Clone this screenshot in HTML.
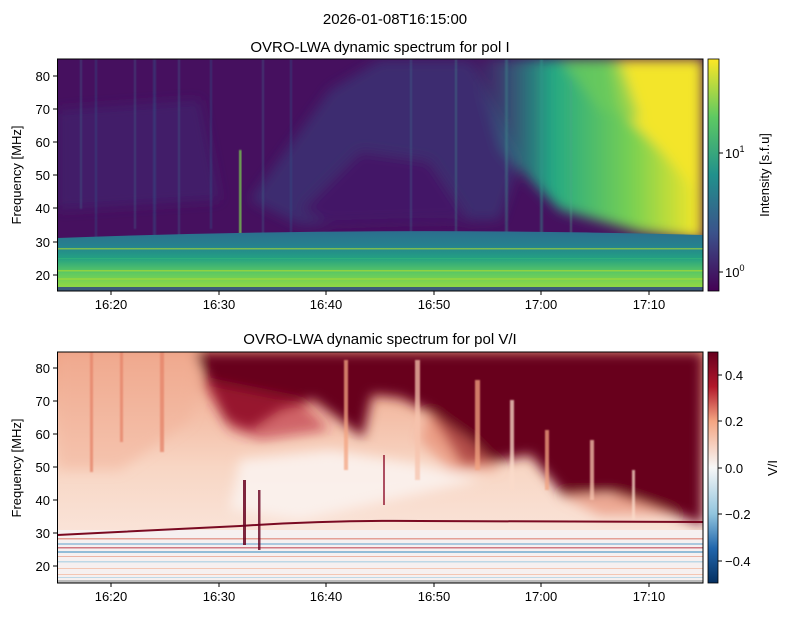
<!DOCTYPE html>
<html><head><meta charset="utf-8"><style>
body{margin:0;background:#fff;}
svg text{font-family:"Liberation Sans",sans-serif;fill:#000;}
</style></head><body>
<svg width="790" height="617" viewBox="0 0 790 617" xmlns="http://www.w3.org/2000/svg">
<defs>
<filter id="b6" x="-20%" y="-20%" width="140%" height="140%"><feGaussianBlur stdDeviation="6"/></filter>
<filter id="b3" x="-20%" y="-20%" width="140%" height="140%"><feGaussianBlur stdDeviation="3"/></filter>
<filter id="b1"><feGaussianBlur stdDeviation="0.8"/></filter>
<clipPath id="c1"><rect x="57.5" y="59" width="645.5" height="232"/></clipPath>
<clipPath id="c2"><rect x="57.5" y="352" width="645.5" height="231"/></clipPath>
<linearGradient id="vir" x1="0" y1="1" x2="0" y2="0">
<stop offset="0" stop-color="#440154"/><stop offset="0.25" stop-color="#3b528b"/><stop offset="0.5" stop-color="#21918c"/><stop offset="0.75" stop-color="#5ec962"/><stop offset="1" stop-color="#fde725"/></linearGradient>
<linearGradient id="rdbu" x1="0" y1="1" x2="0" y2="0">
<stop offset="0" stop-color="#053061"/><stop offset="0.15" stop-color="#2166ac"/><stop offset="0.3" stop-color="#92c5de"/><stop offset="0.5" stop-color="#f7f7f7"/><stop offset="0.7" stop-color="#f4a582"/><stop offset="0.85" stop-color="#b2182b"/><stop offset="1" stop-color="#67001f"/></linearGradient>
<linearGradient id="band" x1="0" y1="0" x2="0" y2="1">
<stop offset="0" stop-color="#2c6e8e"/><stop offset="0.25" stop-color="#26828e"/><stop offset="0.45" stop-color="#23a083"/><stop offset="0.7" stop-color="#5ec962"/><stop offset="0.92" stop-color="#8fd744"/><stop offset="1" stop-color="#5ec962"/></linearGradient>
<linearGradient id="right" x1="0" y1="0" x2="1" y2="0">
<stop offset="0" stop-color="#2a788e" stop-opacity="0"/><stop offset="0.35" stop-color="#22a884"/><stop offset="0.7" stop-color="#7ad151"/><stop offset="1" stop-color="#fde725"/></linearGradient>
<linearGradient id="pinkv" x1="0" y1="0" x2="0" y2="1">
<stop offset="0" stop-color="#eea184"/><stop offset="0.5" stop-color="#f8d6c4"/><stop offset="1" stop-color="#fbeee8"/></linearGradient>
</defs>

<text x="395" y="24" font-size="15" text-anchor="middle">2026-01-08T16:15:00</text>
<text x="380" y="52" font-size="15" text-anchor="middle">OVRO-LWA dynamic spectrum for pol I</text>
<text x="380" y="344" font-size="15" text-anchor="middle">OVRO-LWA dynamic spectrum for pol V/I</text>

<!-- TOP PANEL -->
<g clip-path="url(#c1)">
<rect x="57" y="59" width="646" height="232" fill="#46105f"/>
<g filter="url(#b6)">
<path d="M250 200 L330 90 L380 60 L470 60 L520 160 L500 220 L300 225Z" fill="#35427e" opacity="0.55"/>
<path d="M300 210 L360 150 L430 160 L470 220 L330 225Z" fill="#471265" opacity="0.8"/>
<path d="M470 59 L703 59 L703 240 L640 232 L560 210 L500 150Z" fill="url(#right)"/>
<path d="M610 59 L703 59 L703 200 L660 150 L620 110Z" fill="#f3e52a"/>
<path d="M560 59 L620 59 L640 120 L600 110Z" fill="#6ecc5a" opacity="0.7"/>
<path d="M57 110 L200 100 L220 200 L57 210Z" fill="#3e2a74" opacity="0.5"/>
</g>
<g filter="url(#b1)" opacity="0.4">
<rect x="80" y="59" width="2" height="150" fill="#3d6c8c"/>
<rect x="95" y="59" width="2" height="180" fill="#2f5a8a"/>
<rect x="134" y="59" width="2" height="170" fill="#3d6c8c"/>
<rect x="153" y="59" width="3" height="180" fill="#2f5a8a"/>
<rect x="178" y="59" width="2" height="180" fill="#3d6c8c"/>
<rect x="210" y="59" width="2" height="170" fill="#2f5a8a"/>
<rect x="262" y="59" width="2" height="180" fill="#3d6c8c"/>
<rect x="290" y="59" width="2" height="180" fill="#2f5a8a"/>
<rect x="410" y="59" width="2" height="180" fill="#3d6c8c"/>
<rect x="455" y="59" width="2" height="180" fill="#3d8c8c"/>
<rect x="505" y="59" width="3" height="180" fill="#3d8c8c"/>
<rect x="540" y="59" width="3" height="180" fill="#2f9a8a"/>
<rect x="570" y="80" width="2" height="160" fill="#4fa88a"/>
</g>
<rect x="239" y="150" width="2.5" height="100" fill="#7ad151" opacity="0.8" filter="url(#b1)"/>
<path d="M57 238 Q380 226 703 235 L703 291 L57 291Z" fill="url(#band)"/>
<g opacity="0.6">
<rect x="57" y="248" width="646" height="1.5" fill="#b5de2b"/>
<rect x="57" y="258" width="646" height="1" fill="#35b779"/>
<rect x="57" y="270" width="646" height="1.5" fill="#b5de2b"/>
<rect x="57" y="278" width="646" height="2" fill="#a0da39"/>
</g>
<rect x="57" y="287" width="646" height="4" fill="#3b5a7a"/>
</g>
<rect x="57.5" y="59" width="645.5" height="232" fill="none" stroke="#000" stroke-width="1"/>
<!-- top colorbar -->
<rect x="708" y="59" width="11" height="232" fill="url(#vir)" stroke="#000" stroke-width="0.8"/>
<g font-size="13">
<line x1="719" y1="153" x2="723" y2="153" stroke="#000"/><text x="725" y="158">10<tspan font-size="9" dy="-6">1</tspan></text>
<line x1="719" y1="272" x2="723" y2="272" stroke="#000"/><text x="725" y="277">10<tspan font-size="9" dy="-6">0</tspan></text>
</g>
<text transform="translate(769,175) rotate(-90)" font-size="13" text-anchor="middle">Intensity [s.f.u]</text>

<!-- BOTTOM PANEL -->
<g clip-path="url(#c2)">
<rect x="57" y="352" width="646" height="231" fill="url(#pinkv)"/>
<g filter="url(#b6)">
<path d="M57 352 L200 352 L190 420 L120 470 L57 470Z" fill="#f1b197" opacity="0.5"/>
<path d="M195 352 L703 352 L703 525 L650 505 L610 492 L563 495 L530 455 L495 462 L463 465 L430 412 L400 398 L372 395 L363 438 L340 420 L313 400 L280 410 L250 430 L225 420Z" fill="#67001f"/>
<path d="M200 380 L300 400 L330 430 L260 440 L230 430Z" fill="#b8283a" opacity="0.6"/>
<path d="M430 412 L470 440 L500 470 L450 470 L420 440Z" fill="#e58267" opacity="0.6"/>
<path d="M560 495 L620 495 L680 515 L600 515Z" fill="#e58267" opacity="0.6"/>
<path d="M240 460 L330 450 L420 465 L480 480 L300 520 L230 510Z" fill="#fbf2ee" opacity="0.9"/>
</g>
<g filter="url(#b1)" opacity="0.75">
<rect x="90" y="352" width="3" height="120" fill="#e58267"/>
<rect x="120" y="352" width="3" height="90" fill="#e58267"/>
<rect x="160" y="352" width="4" height="100" fill="#e58267"/>
<rect x="344" y="360" width="4" height="110" fill="#f4a582"/>
<rect x="415" y="360" width="5" height="120" fill="#f7c4ae"/>
<rect x="475" y="380" width="5" height="90" fill="#f4a582"/>
<rect x="510" y="400" width="4" height="90" fill="#fbdccb"/>
<rect x="545" y="430" width="4" height="60" fill="#f4a582"/>
<rect x="590" y="440" width="4" height="60" fill="#f7c4ae"/>
<rect x="632" y="470" width="3" height="50" fill="#fbdccb"/>
</g>
<rect x="57" y="530" width="646" height="53" fill="#f6f0f0"/>
<g opacity="0.55">
<rect x="57" y="538" width="646" height="1.5" fill="#d6604d"/>
<rect x="57" y="543" width="646" height="2" fill="#6fa9d1"/>
<rect x="57" y="547" width="646" height="1.5" fill="#b2182b"/>
<rect x="57" y="551" width="646" height="2" fill="#4393c3"/>
<rect x="57" y="556" width="646" height="1" fill="#e58267"/>
<rect x="57" y="561" width="646" height="1.5" fill="#92c5de"/>
<rect x="57" y="568" width="646" height="1" fill="#f4a582"/>
<rect x="57" y="574" width="646" height="1" fill="#f4a582"/>
<rect x="57" y="577" width="646" height="1" fill="#92c5de"/>
</g>
<path d="M57 535 L240 526 Q330 520 420 521 L703 522" stroke="#7a0a22" stroke-width="2" fill="none"/>
<rect x="243" y="480" width="3" height="65" fill="#67001f" opacity="0.85"/>
<rect x="258" y="490" width="2.5" height="60" fill="#67001f" opacity="0.8"/>
<rect x="383" y="455" width="2" height="50" fill="#8b0a26" opacity="0.7"/>
<rect x="57" y="580" width="646" height="3" fill="#bbbbbb"/>
</g>
<rect x="57.5" y="352" width="645.5" height="231" fill="none" stroke="#000" stroke-width="1"/>
<!-- bottom colorbar -->
<rect x="708" y="352" width="10" height="231" fill="url(#rdbu)" stroke="#000" stroke-width="0.8"/>
<g font-size="13">
<line x1="718" y1="375" x2="722" y2="375" stroke="#000"/><text x="725" y="380">0.4</text>
<line x1="718" y1="421" x2="722" y2="421" stroke="#000"/><text x="725" y="426">0.2</text>
<line x1="718" y1="468" x2="722" y2="468" stroke="#000"/><text x="725" y="473">0.0</text>
<line x1="718" y1="514" x2="722" y2="514" stroke="#000"/><text x="725" y="519">−0.2</text>
<line x1="718" y1="561" x2="722" y2="561" stroke="#000"/><text x="725" y="566">−0.4</text>
</g>
<text transform="translate(777,468) rotate(-90)" font-size="13" text-anchor="middle">V/I</text>

<!-- axes ticks -->
<g font-size="13" stroke-width="1">
<g text-anchor="end">
<line x1="53" y1="76" x2="57" y2="76" stroke="#000"/><text x="50" y="81">80</text>
<line x1="53" y1="109" x2="57" y2="109" stroke="#000"/><text x="50" y="114">70</text>
<line x1="53" y1="142" x2="57" y2="142" stroke="#000"/><text x="50" y="147">60</text>
<line x1="53" y1="175" x2="57" y2="175" stroke="#000"/><text x="50" y="180">50</text>
<line x1="53" y1="208" x2="57" y2="208" stroke="#000"/><text x="50" y="213">40</text>
<line x1="53" y1="242" x2="57" y2="242" stroke="#000"/><text x="50" y="247">30</text>
<line x1="53" y1="275" x2="57" y2="275" stroke="#000"/><text x="50" y="280">20</text>
<line x1="53" y1="368" x2="57" y2="368" stroke="#000"/><text x="50" y="373">80</text>
<line x1="53" y1="401" x2="57" y2="401" stroke="#000"/><text x="50" y="406">70</text>
<line x1="53" y1="434" x2="57" y2="434" stroke="#000"/><text x="50" y="439">60</text>
<line x1="53" y1="467" x2="57" y2="467" stroke="#000"/><text x="50" y="472">50</text>
<line x1="53" y1="500" x2="57" y2="500" stroke="#000"/><text x="50" y="505">40</text>
<line x1="53" y1="533" x2="57" y2="533" stroke="#000"/><text x="50" y="538">30</text>
<line x1="53" y1="566" x2="57" y2="566" stroke="#000"/><text x="50" y="571">20</text>
</g>
<g text-anchor="middle">
<line x1="111" y1="291" x2="111" y2="295" stroke="#000"/><text x="111" y="309">16:20</text>
<line x1="219" y1="291" x2="219" y2="295" stroke="#000"/><text x="219" y="309">16:30</text>
<line x1="326" y1="291" x2="326" y2="295" stroke="#000"/><text x="326" y="309">16:40</text>
<line x1="434" y1="291" x2="434" y2="295" stroke="#000"/><text x="434" y="309">16:50</text>
<line x1="541" y1="291" x2="541" y2="295" stroke="#000"/><text x="541" y="309">17:00</text>
<line x1="649" y1="291" x2="649" y2="295" stroke="#000"/><text x="649" y="309">17:10</text>
<line x1="111" y1="583" x2="111" y2="587" stroke="#000"/><text x="111" y="601">16:20</text>
<line x1="219" y1="583" x2="219" y2="587" stroke="#000"/><text x="219" y="601">16:30</text>
<line x1="326" y1="583" x2="326" y2="587" stroke="#000"/><text x="326" y="601">16:40</text>
<line x1="434" y1="583" x2="434" y2="587" stroke="#000"/><text x="434" y="601">16:50</text>
<line x1="541" y1="583" x2="541" y2="587" stroke="#000"/><text x="541" y="601">17:00</text>
<line x1="649" y1="583" x2="649" y2="587" stroke="#000"/><text x="649" y="601">17:10</text>
</g>
</g>
<text transform="translate(21,175) rotate(-90)" font-size="13" text-anchor="middle">Frequency [MHz]</text>
<text transform="translate(21,468) rotate(-90)" font-size="13" text-anchor="middle">Frequency [MHz]</text>
</svg>
</body></html>
